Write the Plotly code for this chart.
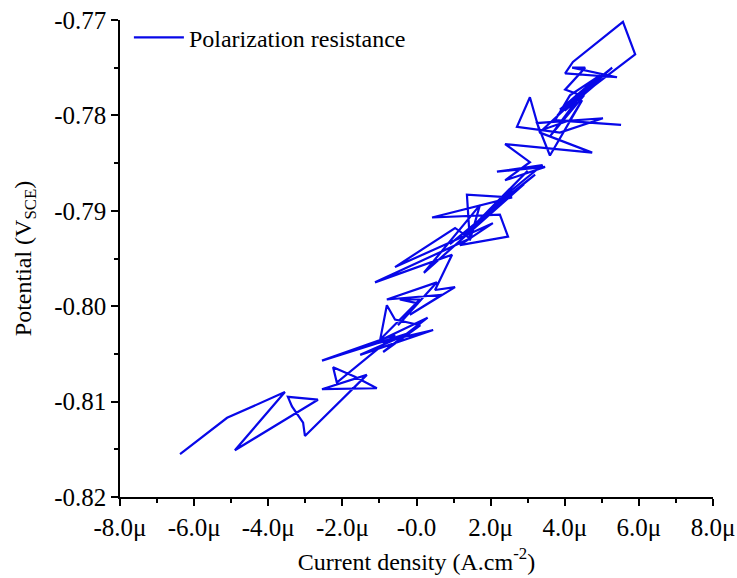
import plotly.graph_objects as go

# Current density in micro A/cm^2, potential in V(SCE)
current_u = [-6.38, -5.11, -3.55, -4.90, -2.66, -3.47, -3.36, -3.06, -3.01, -1.34,
             -2.55, -1.07, -1.66, -2.25, -2.15, -0.58, -2.55, -0.18, -1.52, -0.85,
             0.45, -1.20, 0.30, -0.90, 0.10,
             -0.58, -0.80, -0.98, 0.09, -0.45, 0.04, -0.50, 0.55, -0.80,
             0.69, -0.18, 1.04, 0.50, 0.96, -1.12, 1.44, 1.04, -0.58, 2.06,
             1.17, 2.47, 2.25, 0.42, 2.58, 1.36, 1.44, 1.71,
             0.20, 2.90, 0.90, 3.20, 1.80, 2.60, 1.30, 3.00, 2.20, 3.40,
             2.17, 3.47,
             2.39, 3.06, 2.39, 4.74, 3.33, 3.06, 2.71, 3.87, 5.03, 3.25,
             3.60, 4.47, 4.14,
             3.40, 4.80, 3.80, 5.00, 4.00, 4.60, 3.60, 4.50,
             4.01, 4.55, 4.20, 5.41, 4.01, 4.22, 5.57,
             5.90, 4.28, 5.28, 3.87, 4.95, 4.14, 3.74, 5.52]
potential = [-0.8155, -0.8117, -0.8090, -0.8151, -0.8098, -0.8095, -0.8105, -0.8122, -0.8136, -0.8072,
             -0.8087, -0.8086, -0.8074, -0.8064, -0.8080, -0.8030, -0.8057, -0.8028, -0.8051, -0.8042,
             -0.8025, -0.8040, -0.8012, -0.8048, -0.8020,
             -0.8014, -0.7999, -0.8035, -0.7993, -0.7993, -0.7997, -0.8020, -0.7975, -0.7993,
             -0.7988, -0.8009, -0.7980, -0.7983, -0.7946, -0.7975, -0.7929, -0.7918, -0.7959, -0.7913,
             -0.7936, -0.7927, -0.7904, -0.7907, -0.7886, -0.7883, -0.7931, -0.7894,
             -0.7965, -0.7872, -0.7935, -0.7862, -0.7905, -0.7880, -0.7925, -0.7858, -0.7890, -0.7852,
             -0.7859, -0.7854,
             -0.7868, -0.7849, -0.7830, -0.7839, -0.7818, -0.7781, -0.7812, -0.7818, -0.7803, -0.7808,
             -0.7842, -0.7784, -0.7805,
             -0.7815, -0.7765, -0.7800, -0.7762, -0.7795, -0.7770, -0.7822, -0.7780,
             -0.7773, -0.7750, -0.7750, -0.7760, -0.7756, -0.7744, -0.7702,
             -0.7736, -0.7784, -0.7750, -0.7794, -0.7758, -0.7779, -0.7805, -0.7810]

x_tickvals = [-8, -6, -4, -2, 0, 2, 4, 6, 8]
x_ticktext = ["-8.0μ", "-6.0μ", "-4.0μ", "-2.0μ", "-0.0", "2.0μ", "4.0μ", "6.0μ", "8.0μ"]
y_tickvals = [-0.82, -0.81, -0.80, -0.79, -0.78, -0.77]
y_ticktext = ["-0.82", "-0.81", "-0.80", "-0.79", "-0.78", "-0.77"]

FONT = "Liberation Serif, Times New Roman, serif"

fig = go.Figure()
fig.add_trace(go.Scatter(
    x=current_u, y=potential, mode="lines",
    line=dict(color="#0808e8", width=2.2),
    name="Polarization resistance",
))

fig.update_layout(
    width=737, height=578,
    margin=dict(l=120, r=24, t=20, b=81, autoexpand=False),
    paper_bgcolor="white", plot_bgcolor="white",
    font=dict(family=FONT, size=24, color="black"),
    showlegend=True,
    legend=dict(x=0.015, y=1.01, xanchor="left", yanchor="top",
                bgcolor="rgba(255,255,255,0)", font=dict(family=FONT, size=24),
                itemwidth=50),
)
fig.update_xaxes(
    range=[-8, 8], tickvals=x_tickvals, ticktext=x_ticktext,
    showline=True, linecolor="black", linewidth=1.5, mirror=False,
    ticks="outside", ticklen=7, tickwidth=1.5, tickcolor="black",
    minor=dict(ticks="outside", ticklen=4, tickwidth=1.5, tickcolor="black", dtick=1),
    showgrid=False, zeroline=False,
    tickfont=dict(family=FONT, size=25),
    title=dict(text="Current density (A.cm<sup>-2</sup>)", font=dict(family=FONT, size=24), standoff=13),
)
fig.update_yaxes(
    range=[-0.82, -0.77], tickvals=y_tickvals, ticktext=y_ticktext,
    showline=True, linecolor="black", linewidth=1.5, mirror=False,
    ticks="outside", ticklen=7, tickwidth=1.5, tickcolor="black",
    minor=dict(ticks="outside", ticklen=4, tickwidth=1.5, tickcolor="black", dtick=0.005, tick0=-0.82),
    showgrid=False, zeroline=False,
    tickfont=dict(family=FONT, size=25),
    title=dict(text="Potential (V<sub>SCE</sub>)", font=dict(family=FONT, size=24), standoff=16),
)

fig.write_html("out.html")
